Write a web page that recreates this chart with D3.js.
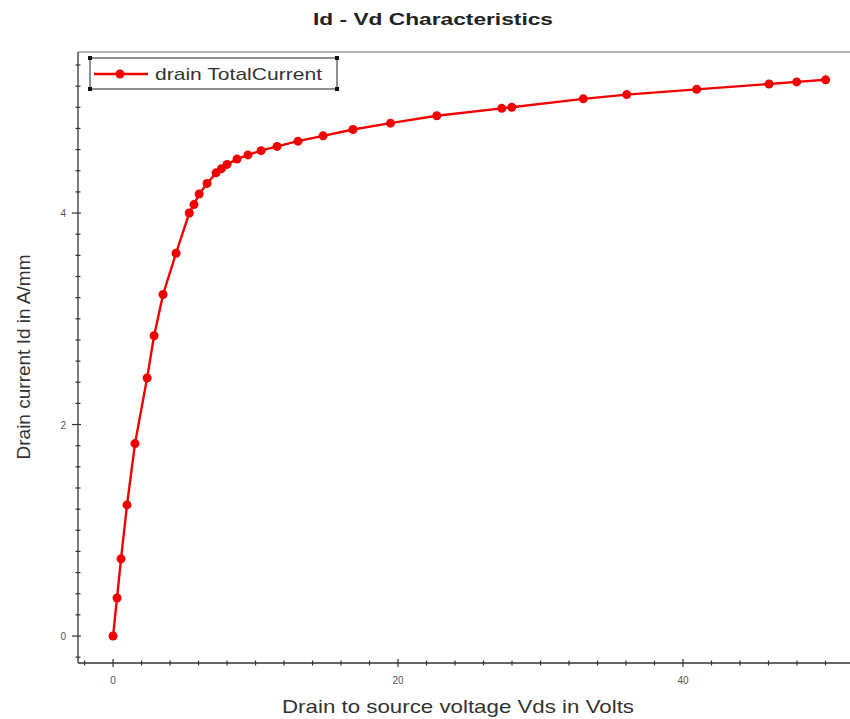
<!DOCTYPE html>
<html>
<head>
<meta charset="utf-8">
<script src="https://cdn.jsdelivr.net/npm/d3@7"></script>
<style>
  html, body { margin: 0; padding: 0; background: #fff; }
  svg { display: block; font-family: "Liberation Sans", Arial, sans-serif; }
</style>
</head>
<body>
<svg id="chart" width="850" height="719"></svg>
<script>
// ---- data ----
const vds = [0, 0.28, 0.56, 0.98, 1.54, 2.39, 2.88, 3.51, 4.42, 5.35, 5.68, 6.04, 6.6, 7.23, 7.61, 8.0, 8.7, 9.47, 10.39, 11.51, 12.98, 14.74, 16.84, 19.47, 22.72, 27.28, 27.98, 33.0, 36.05, 40.96, 46.04, 47.98, 50.01];
const id  = [0, 0.36, 0.73, 1.24, 1.82, 2.44, 2.84, 3.23, 3.62, 4.0, 4.08, 4.18, 4.28, 4.38, 4.42, 4.46, 4.51, 4.55, 4.59, 4.63, 4.68, 4.73, 4.79, 4.85, 4.92, 4.99, 5.0, 5.08, 5.12, 5.17, 5.22, 5.24, 5.26];
const xMajorTicks = [0, 20, 40];
const yMajorTicks = [0, 2, 4];
const seriesName = "drain TotalCurrent";
const title = "Id - Vd Characteristics";
const xLabel = "Drain to source voltage Vds in Volts";
const yLabel = "Drain current Id in A/mm";

// ---- layout ----
const W = 850, H = 719;
const m = { left: 78, top: 52, right: 0, bottom: 56 };
const svg = d3.select("#chart");

const x = d3.scaleLinear().domain([-2.46, 51.72]).range([m.left, W - m.right]);
const y = d3.scaleLinear().domain([-0.255, 5.523]).range([H - m.bottom, m.top]);

const axisColor = "#333";
const red = "#f00000";

// top border
svg.append("line")
  .attr("x1", m.left).attr("x2", W).attr("y1", m.top).attr("y2", m.top)
  .attr("stroke", "#999").attr("stroke-width", 1.5);

// x axis
const xMinor = d3.range(-2, 52, 2);
const gx = svg.append("g");
gx.append("line").attr("x1", m.left).attr("x2", W)
  .attr("y1", y.range()[0]).attr("y2", y.range()[0])
  .attr("stroke", axisColor).attr("stroke-width", 1.3);
gx.selectAll("line.minor").data(xMinor).join("line")
  .attr("class", "minor")
  .attr("x1", d => x(d)).attr("x2", d => x(d))
  .attr("y1", d => y.range()[0] - (xMajorTicks.includes(d) ? 4 : 2.5))
  .attr("y2", d => y.range()[0] + (xMajorTicks.includes(d) ? 4 : 2.5))
  .attr("stroke", axisColor).attr("stroke-width", 1.2);
gx.selectAll("text").data(xMajorTicks).join("text")
  .attr("x", d => x(d)).attr("y", y.range()[0] + 21)
  .attr("text-anchor", "middle").attr("font-size", 10).attr("fill", "#555")
  .text(d => d);

// y axis
const yMinor = d3.range(-0.2, 5.5, 0.2).map(v => Math.round(v * 10) / 10);
const gy = svg.append("g");
gy.append("line").attr("x1", m.left).attr("x2", m.left)
  .attr("y1", m.top).attr("y2", y.range()[0])
  .attr("stroke", axisColor).attr("stroke-width", 1.3);
gy.selectAll("line.minor").data(yMinor).join("line")
  .attr("class", "minor")
  .attr("y1", d => y(d)).attr("y2", d => y(d))
  .attr("x1", d => m.left - (yMajorTicks.includes(d) ? 6 : 2.5))
  .attr("x2", d => m.left + (yMajorTicks.includes(d) ? 3 : 2.5))
  .attr("stroke", axisColor).attr("stroke-width", 1.2);
gy.selectAll("text").data(yMajorTicks).join("text")
  .attr("x", m.left - 12).attr("y", d => y(d) + 4)
  .attr("text-anchor", "end").attr("font-size", 10).attr("fill", "#555")
  .text(d => d);

// titles
svg.append("text").attr("x", 433).attr("y", 25)
  .attr("text-anchor", "middle").attr("font-size", 17).attr("font-weight", "bold")
  .attr("textLength", 240).attr("lengthAdjust", "spacingAndGlyphs")
  .attr("fill", "#222").text(title);
svg.append("text").attr("x", 458).attr("y", 713)
  .attr("text-anchor", "middle").attr("font-size", 19).attr("fill", "#333")
  .attr("textLength", 352).attr("lengthAdjust", "spacingAndGlyphs")
  .text(xLabel);
svg.append("text").attr("transform", "translate(30,357) rotate(-90)")
  .attr("text-anchor", "middle").attr("font-size", 18).attr("fill", "#333")
  .attr("textLength", 205).attr("lengthAdjust", "spacingAndGlyphs")
  .text(yLabel);

// series
const pts = vds.map((v, i) => [v, id[i]]);
svg.append("path").datum(pts)
  .attr("fill", "none").attr("stroke", red).attr("stroke-width", 2.4)
  .attr("d", d3.line().x(d => x(d[0])).y(d => y(d[1])));
svg.selectAll("circle.pt").data(pts).join("circle")
  .attr("class", "pt")
  .attr("cx", d => x(d[0])).attr("cy", d => y(d[1])).attr("r", 4.5)
  .attr("fill", red);

// legend
const lg = svg.append("g");
const lx = 90, ly = 58, lw = 247, lh = 31;
lg.append("rect").attr("x", lx).attr("y", ly).attr("width", lw).attr("height", lh)
  .attr("fill", "#fff").attr("stroke", "#222").attr("stroke-width", 1);
[[lx, ly], [lx + lw, ly], [lx, ly + lh], [lx + lw, ly + lh]].forEach(c => {
  lg.append("rect").attr("x", c[0] - 2).attr("y", c[1] - 2)
    .attr("width", 4).attr("height", 4).attr("fill", "#111");
});
lg.append("line").attr("x1", lx + 4).attr("x2", lx + 58)
  .attr("y1", ly + 16).attr("y2", ly + 16)
  .attr("stroke", red).attr("stroke-width", 2.4);
lg.append("circle").attr("cx", lx + 30).attr("cy", ly + 16).attr("r", 4.5).attr("fill", red);
lg.append("text").attr("x", lx + 65).attr("y", ly + 22)
  .attr("font-size", 17).attr("fill", "#333")
  .attr("textLength", 167).attr("lengthAdjust", "spacingAndGlyphs")
  .text(seriesName);
</script>
</body>
</html>
